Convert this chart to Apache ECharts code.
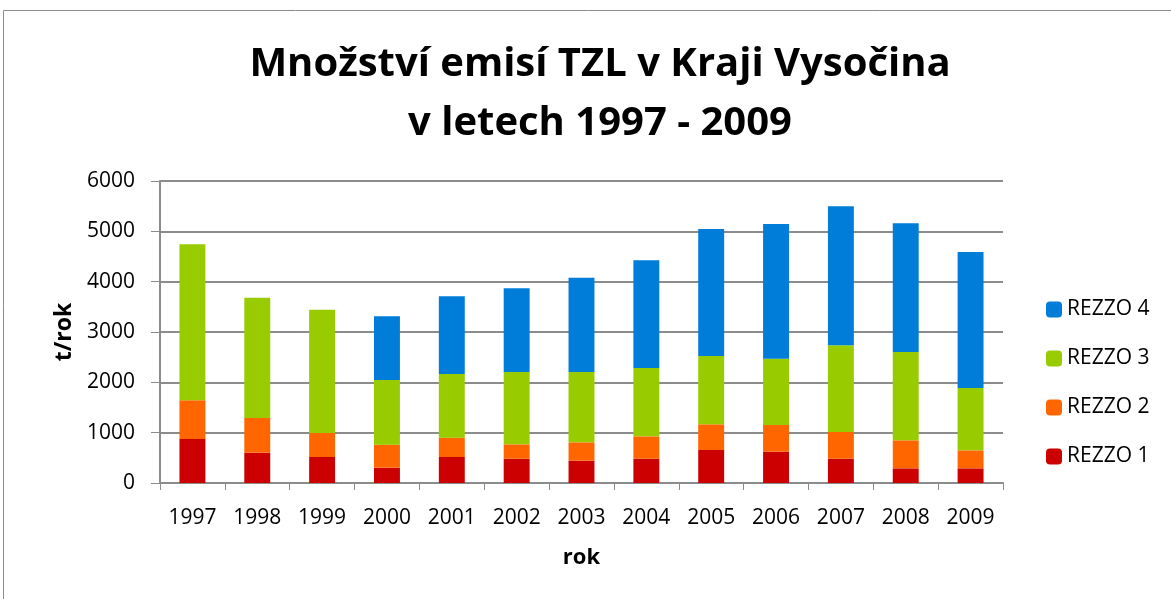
<!DOCTYPE html>
<html>
<head>
<meta charset="utf-8">
<script src="https://cdn.jsdelivr.net/npm/echarts@6/dist/echarts.min.js"></script>
<style>
  html, body { margin: 0; padding: 0; background: #fff; }
  #chart { width: 1171px; height: 599px; }
</style>
</head>
<body>
<div id="chart"></div>
<script>
// data
var years = ['1997','1998','1999','2000','2001','2002','2003','2004','2005','2006','2007','2008','2009'];
var rezzo1 = [874, 603, 517, 305, 517, 483, 444, 483, 656, 623, 483, 291, 291];
var rezzo2 = [768, 688, 476, 457, 384, 285, 364, 444, 510, 529, 530, 557, 358];
var rezzo3 = [3100, 2391, 2451, 1284, 1265, 1437, 1397, 1358, 1357, 1318, 1722, 1755, 1238];
var rezzo4 = [0, 0, 0, 1265, 1543, 1663, 1874, 2139, 2523, 2676, 2762, 2556, 2702];

var font = '"Open Sans", "DejaVu Sans", sans-serif';
var myChart = echarts.init(document.getElementById('chart'));

function bar(name, data, color){
    return {
        name: name,
        type: 'bar',
        stack: 'total',
        barWidth: '40%',
        data: data,
        itemStyle: { color: color }
    };
}

myChart.setOption({
    animation: false,
    graphic: [{
        type: 'rect',
        shape: { x: 3.5, y: 10.5, width: 1180, height: 600 },
        style: { fill: 'none', stroke: '#8c8c8c', lineWidth: 1 }
    }],
    title: {
        text: 'Množství emisí TZL v Kraji Vysočina\nv letech 1997 - 2009',
        left: 595,
        top: 30,
        textAlign: 'center',
        textStyle: { fontFamily: font, fontSize: 40, fontWeight: 'bold', color: '#000', lineHeight: 59 }
    },
    legend: {
        orient: 'vertical',
        left: 1041,
        top: 294,
        itemGap: 28,
        itemWidth: 16,
        itemHeight: 16,
        data: ['REZZO 4','REZZO 3','REZZO 2','REZZO 1'],
        textStyle: { fontFamily: font, fontSize: 21, color: '#000' }
    },
    grid: { left: 160, right: 168, top: 181, bottom: 116 },
    xAxis: {
        type: 'category',
        data: years,
        name: 'rok',
        nameLocation: 'middle',
        nameGap: 64,
        nameTextStyle: { fontFamily: font, fontSize: 22, fontWeight: 'bold', color: '#000' },
        axisLine: { lineStyle: { color: '#8c8c8c', width: 2 } },
        axisTick: { show: true, length: 7, lineStyle: { color: '#8c8c8c', width: 1 } },
        axisLabel: { fontFamily: font, fontSize: 21, color: '#000', margin: 25 }
    },
    yAxis: {
        type: 'value',
        min: 0,
        max: 6000,
        interval: 1000,
        name: 't/rok',
        nameLocation: 'middle',
        nameGap: 80,
        nameTextStyle: { fontFamily: font, fontSize: 23, fontWeight: 'bold', color: '#000' },
        axisLine: { show: true, lineStyle: { color: '#8c8c8c', width: 2 } },
        axisTick: { show: true, length: 9, lineStyle: { color: '#8c8c8c', width: 1 } },
        axisLabel: { fontFamily: font, fontSize: 21, color: '#000', margin: 25, formatter: function(v){ return String(v); } },
        splitLine: { lineStyle: { color: '#8c8c8c', width: 2 } }
    },
    series: [
        bar('REZZO 1', rezzo1, '#cc0000'),
        bar('REZZO 2', rezzo2, '#ff6600'),
        bar('REZZO 3', rezzo3, '#99cc00'),
        bar('REZZO 4', rezzo4, '#007dd9')
    ]
});
</script>
</body>
</html>
